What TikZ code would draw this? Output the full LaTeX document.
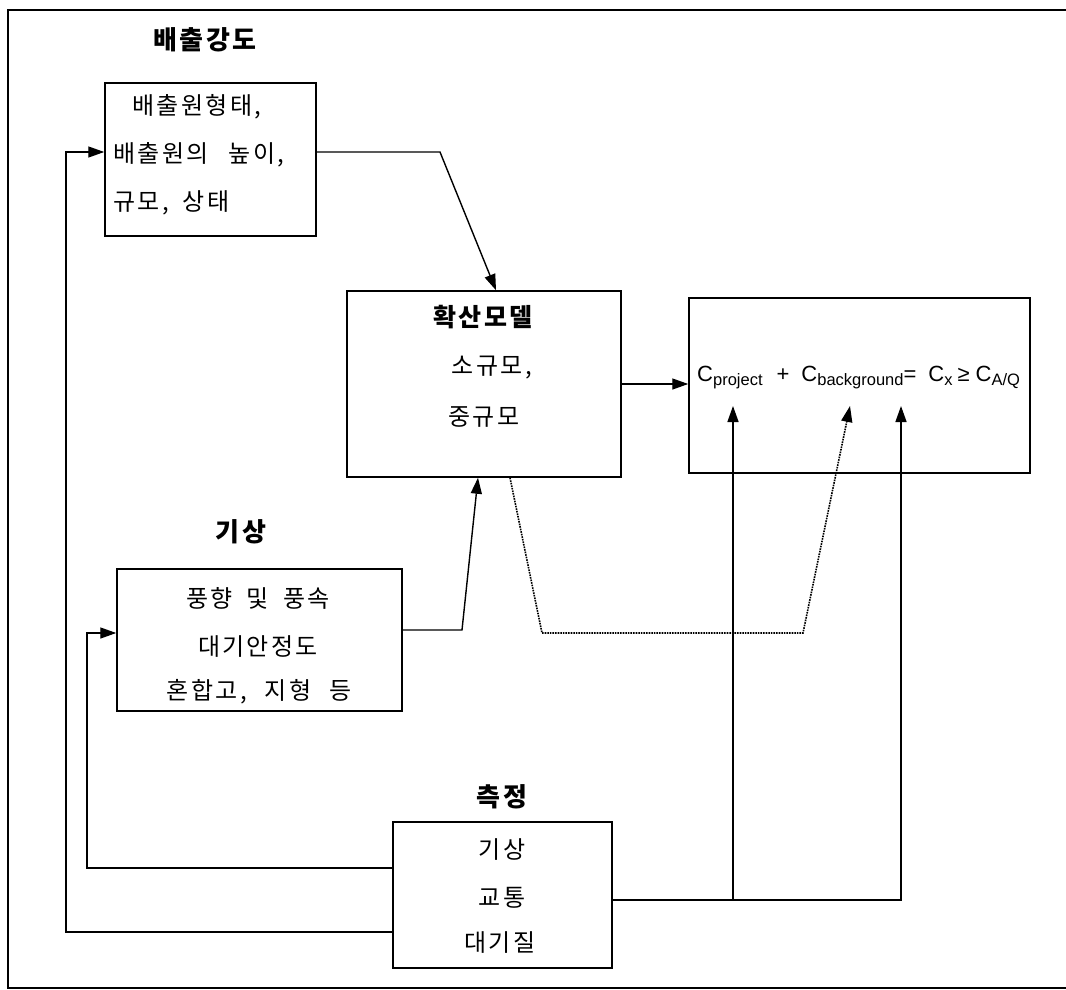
\documentclass[tikz,border=0pt]{standalone}
\usepackage{fontspec}
\setmainfont{Liberation Sans}
\newfontfamily\kr[LetterSpace=10]{Noto Sans CJK KR}
\usetikzlibrary{arrows.meta,calc}
\begin{document}
\begin{tikzpicture}[x=1pt,y=-1pt,
  box/.style={draw,line width=1.5pt,inner sep=0pt},
  kt/.style={inner sep=0pt,font=\kr\fontsize{24}{28}\selectfont},
  ttl/.style={inner sep=0pt,font=\kr\bfseries\fontsize{26}{30}\selectfont},
  conn/.style={line width=1.4pt},
  arr/.style={conn,-{Triangle[length=16pt,width=11pt]}},
  dotl/.style={line width=1.6pt,densely dotted,-{Triangle[length=16pt,width=11pt]}}]
\fill[white] (0,0) rectangle (1066,990);
\useasboundingbox (0,0) rectangle (1066,990);
\draw[line width=1.6pt] (1066,10) -- (8,10) -- (8,988) -- (1066,988);

% boxes
\node[box,minimum width=211pt,minimum height=153pt] (b1) at (210.5,159.5) {};
\node[box,minimum width=274pt,minimum height=186pt] (b2) at (484,384) {};
\node[box,minimum width=341pt,minimum height=175pt] (b3) at (859.5,385.5) {};
\node[box,minimum width=285pt,minimum height=142pt] (b4) at (259.5,640) {};
\node[box,minimum width=219pt,minimum height=146pt] (b5) at (502.5,895) {};

% titles
\node[ttl] (t1) at (205,40) {배출강도};
\node[ttl] (t4) at (241,532) {기상};
\node[ttl] (t5) at (502,797) {측정};

% box texts
\node[kt] (l1a) at (197,107) {배출원형태,};
\node[kt,anchor=west] (l1b) at (113,155) {배출원의\hspace{20pt}높이,};
\node[kt,anchor=west] (l1c) at (113,203) {규모,\hspace{14pt}상태};

\node[ttl,font=\kr\bfseries\fontsize{25}{28}\selectfont] (l2a) at (483,317) {확산모델};
\node[kt] (l2b) at (492,368) {소규모,};
\node[kt] (l2c) at (484,417) {중규모};

\node[kt] (l4a) at (258,598) {풍향\hspace{14pt}및\hspace{14pt}풍속};
\node[kt] (l4b) at (258,647) {대기안정도};
\node[kt] (l4c) at (259,692) {혼합고,\hspace{18pt}지형\hspace{18pt}등};

\node[kt] (l5a) at (502,850) {기상};
\node[kt] (l5b) at (502,898) {교통};
\node[kt] (l5c) at (500,943) {대기질};

% formula
\node[anchor=west,inner sep=0pt,font=\fontsize{22}{24}\selectfont] (fm) at (697,378)
  {C\raisebox{-4pt}{\fontsize{16.5}{16}\selectfont project}\hspace{14pt}+\hspace{12pt}C\raisebox{-4pt}{\fontsize{16.5}{16}\selectfont background}=\hspace{12pt}C\raisebox{-4pt}{\fontsize{16.5}{16}\selectfont x}\hspace{5pt}≥\hspace{6pt}C\raisebox{-4pt}{\fontsize{16.5}{16}\selectfont A/Q}};

% coordinates
\coordinate (c1) at (440,152);
\coordinate (c4) at (462,630);
\coordinate (d1) at (542,633);
\coordinate (d2) at (803,633);
\coordinate (p1) at (733,406);
\coordinate (p2) at (850,406);
\coordinate (p3) at (901,406);
\coordinate (e1) at (733,900);
\coordinate (e2) at (901,900);
\coordinate (g1) at (87,868);
\coordinate (g2) at (87,633);
\coordinate (h1) at (66,932);
\coordinate (h2) at (66,152);

% connectors
\draw[arr] (b1.east |- c1) -- (c1) -- ($(b2.north)+(12,0)$);
\draw[arr] (b2.east) -- (b2.east -| b3.west);
\draw[arr] (b4.east |- c4) -- (c4) -- ($(b2.south)+(-6,0)$);
\draw[dotl] ($(b2.south)+(26,0)$) -- (d1) -- (d2) -- (p2);
\draw[arr] (b5.east |- e1) -- (e2) -- (p3);
\draw[arr] (e1) -- (p1);
\draw[arr] (b5.west |- g1) -- (g1) -- (g2) -- (b4.west |- g2);
\draw[arr] (b5.west |- h1) -- (h1) -- (h2) -- (b1.west |- h2);
\end{tikzpicture}
\end{document}
